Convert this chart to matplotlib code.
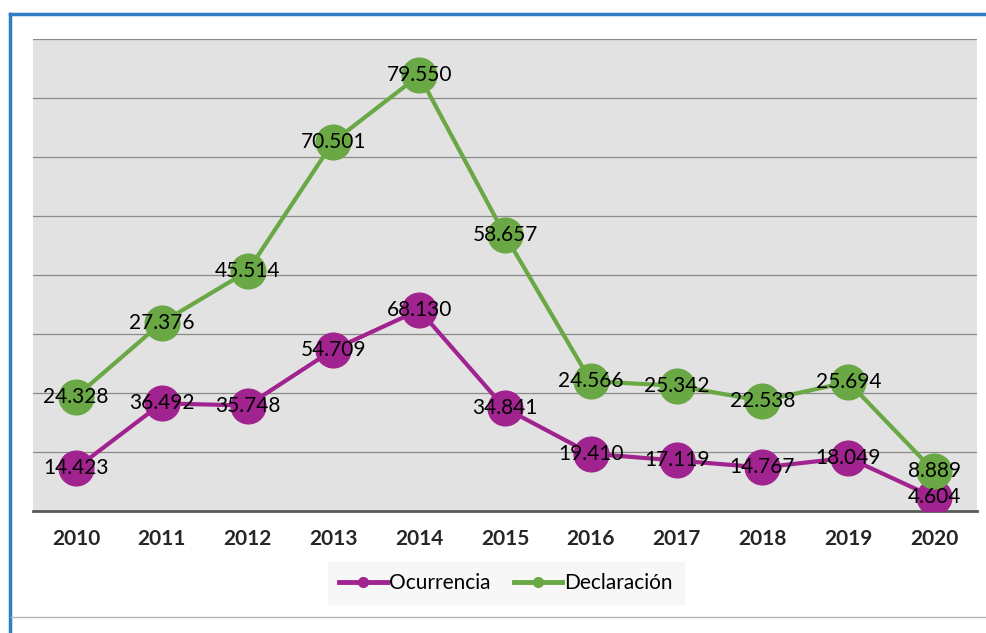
import matplotlib
matplotlib.use('Agg')
import matplotlib.pyplot as plt
import numpy as np
from matplotlib.lines import Line2D

years = ['2010', '2011', '2012', '2013', '2014', '2015', '2016', '2017', '2018', '2019', '2020']
ocurrencia = [14.423, 36.492, 35.748, 54.709, 68.130, 34.841, 19.410, 17.119, 14.767, 18.049, 4.604]
declaracion = [24.328, 27.376, 45.514, 70.501, 79.550, 58.657, 24.566, 25.342, 22.538, 25.694, 8.889]

purple = '#a1238f'
green = '#69a845'

plt.rcParams['font.family'] = ['Lato', 'DejaVu Sans']

fig = plt.figure(figsize=[9.87, 6.33], dpi=100)
ax = fig.add_axes([33/987, 1-511/633, (977-33)/987, (511-39)/633])

x = np.arange(len(years))
ocu = np.array(ocurrencia)
# stacked line: second series sits on top of the first
dec_top = ocu + np.array(declaracion)

ax.set_facecolor('#e2e2e2')
ax.plot(x, ocu, color=purple, lw=3, marker='o', ms=25, zorder=3, label='Ocurrencia')
ax.plot(x, dec_top, color=green, lw=3, marker='o', ms=25, zorder=3, label='Declaración')

def fmt(v):
    return ('%.3f' % v)

for i in range(len(years)):
    ax.text(x[i], ocu[i], fmt(ocurrencia[i]), ha='center', va='center', fontsize=15, zorder=4)
    ax.text(x[i], dec_top[i], fmt(declaracion[i]), ha='center', va='center', fontsize=15, zorder=4)

ax.set_xlim(-0.5, len(years) - 0.5)
ax.set_ylim(0, 160)
ax.set_yticks(np.arange(20, 161, 20))
ax.yaxis.grid(True, color='#8a8a8a', lw=0.9)
ax.set_axisbelow(True)
ax.tick_params(axis='y', left=False, labelleft=False)
ax.set_xticks(x)
ax.set_xticklabels(years, fontsize=15, fontweight='bold', color='#262626')
ax.tick_params(axis='x', length=0, pad=13)
for s in ['top', 'right', 'left']:
    ax.spines[s].set_visible(False)
ax.spines['bottom'].set_color('#595959')
ax.spines['bottom'].set_linewidth(2)

leg_handles = [Line2D([0], [0], color=purple, lw=3.5, marker='o', ms=7),
               Line2D([0], [0], color=green, lw=3.5, marker='o', ms=7)]
leg = fig.legend(leg_handles, ['Ocurrencia', 'Declaración'], loc='center',
                 bbox_to_anchor=(506/987, 1-583/633), ncol=2, frameon=True,
                 fontsize=15, handlelength=2.3, handletextpad=0.1, columnspacing=1.15,
                 borderpad=0.55, borderaxespad=0)
leg.get_frame().set_facecolor('#f5f5f5')
leg.get_frame().set_edgecolor('#f5f5f5')
leg.get_frame().set_boxstyle('square', pad=0)

# frame of the surrounding panel
fig.add_artist(Line2D([10/987, 10/987], [0, 1-14/633], color='#2e7ec5', lw=2.5))
fig.add_artist(Line2D([10/987, 1], [1-14/633, 1-14/633], color='#2e7ec5', lw=2.5))
fig.add_artist(Line2D([11/987, 985/987], [1-617/633, 1-617/633], color='#b5b5b5', lw=1))

plt.savefig('out.png', dpi=100)
